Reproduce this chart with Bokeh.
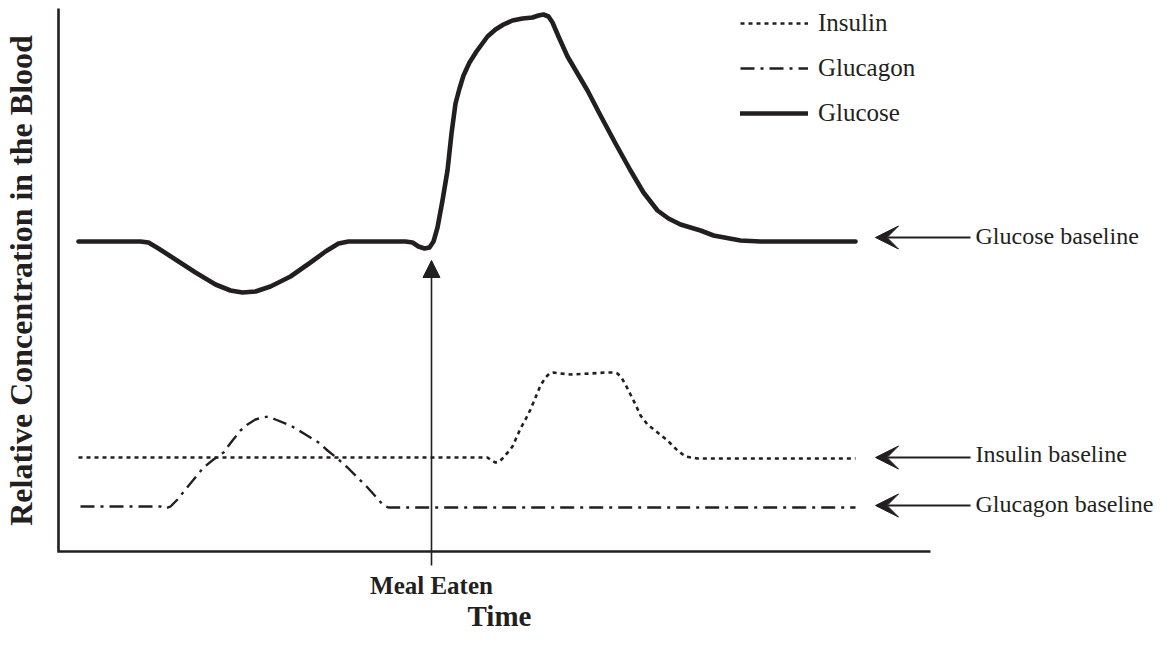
import numpy as np
from bokeh.plotting import figure
from bokeh.models import Range1d, Arrow, VeeHead, NormalHead, Legend, LegendItem
from bokeh.core.properties import value
from bokeh.embed import file_html
from bokeh.resources import INLINE

# ---- data (time from the y-axis, relative concentration above the x-axis) ----
glucose_t = [20, 82, 90, 100, 117, 137, 157, 172, 184, 197, 212, 232, 252, 267, 280, 290, 302, 347,
             354, 360, 366, 371, 375, 379, 384, 389, 393, 397, 401, 405, 411, 418, 429, 437, 445, 454,
             464, 474, 480, 485, 490, 494, 500, 509, 519, 529, 542, 557, 572, 585, 599, 610, 622, 642,
             655, 682, 702, 797]
glucose_c = [310, 310, 309, 303, 292, 279, 267, 261, 259, 260, 265, 275, 289, 300, 308, 310, 310, 310,
             309, 305, 303, 304, 310, 324, 351, 381, 418, 448, 463, 476, 489, 500, 515, 522, 527, 531,
             533, 534, 536, 537, 535, 529, 515, 495, 478, 461, 436, 408, 381, 359, 341, 333, 327, 321,
             316, 311, 310, 310]

insulin_t = [20, 429, 433, 437, 441, 445, 450, 454, 458, 462, 467, 472, 477, 482, 487, 491, 495, 502,
             512, 532, 547, 555, 559, 563, 568, 572, 577, 582, 589, 599, 609, 619, 627, 639, 797]
insulin_c = [94, 94, 91, 89, 90, 94, 100, 105, 114, 123, 132, 142, 154, 166, 174, 178, 179, 178,
             177, 178, 179, 179, 178, 174, 165, 157, 147, 136, 127, 119, 111, 101, 95, 93, 93]

glucagon_t = [22, 102, 107, 112, 119, 127, 136, 145, 155, 165, 174, 182, 189, 197, 204, 210, 217, 232,
              247, 260, 269, 279, 289, 299, 309, 318, 325, 330, 337, 797]
glucagon_c = [45, 45, 43, 45, 52, 62, 73, 84, 92, 99, 111, 121, 127, 132, 134, 135, 132, 126,
              117, 109, 101, 93, 84, 74, 64, 54, 46, 44, 44, 44]

series_names = ["Insulin", "Glucagon", "Glucose"]
baseline_labels = ["Glucose baseline", "Insulin baseline", "Glucagon baseline"]
baseline_levels = [314, 94, 46]
meal_time = 373
meal_label = "Meal Eaten"
x_label = "Time"
y_label = "Relative Concentration in the Blood"
axis_t_end = 872
axis_c_end = 543

INK = "#231f20"
FONT = "Liberation Serif"

p = figure(width=1155, height=634, output_backend="svg", toolbar_location=None,
           x_range=Range1d(-58, 1097), y_range=Range1d(-83, 551),
           x_axis_location=None, y_axis_location=None,
           min_border=0, min_border_left=0, min_border_right=0,
           min_border_top=0, min_border_bottom=0,
           outline_line_color=None, background_fill_color="white")
p.grid.grid_line_color = None

# axis lines
p.line([0, 0, axis_t_end], [axis_c_end, 0, 0], line_color=INK, line_width=2.6, line_join="miter")

r_ins = p.line(insulin_t, insulin_c, line_color=INK, line_width=2.6, line_dash="4 4",
               line_join="round")
r_glg = p.line(glucagon_t, glucagon_c, line_color=INK, line_width=2.4, line_dash="14 6 3 6",
               line_join="round")
r_glu = p.line(glucose_t, glucose_c, line_color=INK, line_width=4.6, line_join="round",
               line_cap="round")

legend = Legend(items=[LegendItem(label=series_names[0], renderers=[r_ins]),
                       LegendItem(label=series_names[1], renderers=[r_glg]),
                       LegendItem(label=series_names[2], renderers=[r_glu])],
                location=(740, 507), orientation="vertical",
                glyph_width=68, glyph_height=24, label_height=24, spacing=17,
                label_standoff=10, padding=0, margin=0,
                label_text_font=FONT, label_text_font_size="25px", label_text_color=INK,
                background_fill_alpha=0, border_line_color=None)
p.add_layout(legend, "center")

# baseline arrows and labels
for lvl in baseline_levels:
    p.add_layout(Arrow(x_start=912, y_start=lvl, x_end=817, y_end=lvl,
                       line_color=INK, line_width=2.2,
                       end=VeeHead(size=23, fill_color=INK, line_color=INK, line_width=1)))
p.text(x=[917, 917, 917], y=[316, 98, 48], text=baseline_labels,
       text_font=value(FONT), text_font_size=value("24px"), text_color=INK,
       text_align="left", text_baseline="middle")

# meal arrow
p.add_layout(Arrow(x_start=meal_time, y_start=-14, x_end=meal_time, y_end=291,
                   line_color=INK, line_width=1.6,
                   end=NormalHead(size=17, fill_color=INK, line_color=INK, line_width=1)))
p.text(x=[meal_time], y=[-34], text=[meal_label],
       text_font=value(FONT), text_font_style="bold", text_font_size=value("25px"),
       text_color=INK, text_align="center", text_baseline="middle")

# axis titles
p.text(x=[441], y=[-64], text=[x_label],
       text_font=value(FONT), text_font_style="bold", text_font_size=value("29px"),
       text_color=INK, text_align="center", text_baseline="middle")
p.text(x=[-38], y=[271], text=[y_label], angle=np.pi / 2,
       text_font=value(FONT), text_font_style="bold", text_font_size=value("32px"),
       text_color=INK, text_align="center", text_baseline="middle")

open("out.html", "w").write(file_html(p, INLINE))
